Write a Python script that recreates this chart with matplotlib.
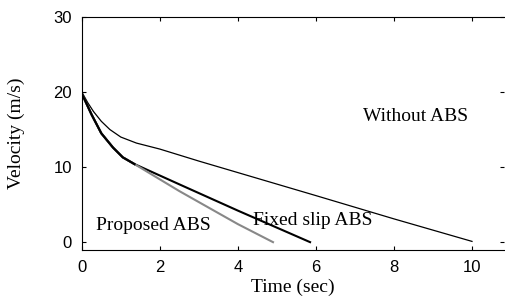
import numpy as np
import matplotlib
matplotlib.use('Agg')
import matplotlib.pyplot as plt

# shared initial braking phase (both ABS curves)
t_start = [0.0, 0.25, 0.5, 0.8, 1.05, 1.35]
v_start = [19.8, 17.0, 14.5, 12.6, 11.3, 10.4]

t_proposed = t_start + [2.5, 4.0, 4.9]
v_proposed = v_start + [6.8, 2.4, 0.0]

t_fixed = t_start + [2.5, 4.0, 5.85]
v_fixed = v_start + [7.7, 4.2, 0.0]

t_without = [0.0, 0.15, 0.3, 0.5, 0.72, 1.0, 1.4, 2.0, 3.0, 6.0, 8.0, 10.0]
v_without = [20.0, 18.6, 17.4, 16.1, 15.0, 14.0, 13.2, 12.4, 10.8, 6.2, 3.1, 0.1]

serif = 'Liberation Serif'
sans = 'Liberation Sans'

fig = plt.figure(figsize=(5.05, 2.98), dpi=100)
ax = fig.add_axes([0.162, 0.161, 0.836, 0.782])

ax.plot(t_without, v_without, color='black', lw=0.9)
ax.plot(t_fixed, v_fixed, color='black', lw=1.5)
ax.plot(t_proposed, v_proposed, color='#888888', lw=1.5)
ax.plot(t_start, v_start, color='black', lw=1.6)

ax.set_xlim(0, 10.82)
ax.set_ylim(-1.05, 30)
ax.set_xticks([0, 2, 4, 6, 8, 10])
ax.set_yticks([0, 10, 20, 30])
ax.tick_params(direction='in', length=3, top=True, right=True, labelsize=12, pad=7)
for lab in ax.get_xticklabels() + ax.get_yticklabels():
    lab.set_family(sans)
ax.spines['right'].set_visible(False)

ax.set_xlabel('Time (sec)', family=serif, fontsize=14)
ax.set_ylabel('Velocity (m/s)', family=serif, fontsize=14)
ax.xaxis.set_label_coords(0.5, -0.125)
ax.yaxis.set_label_coords(-0.135, 0.5)

ax.text(7.2, 16.8, 'Without ABS', family=serif, fontsize=14, va='center')
ax.text(0.36, 2.2, 'Proposed ABS', family=serif, fontsize=14, va='center')
ax.text(4.38, 2.9, 'Fixed slip ABS', family=serif, fontsize=14, va='center')

fig.savefig('out.png', dpi=100)
